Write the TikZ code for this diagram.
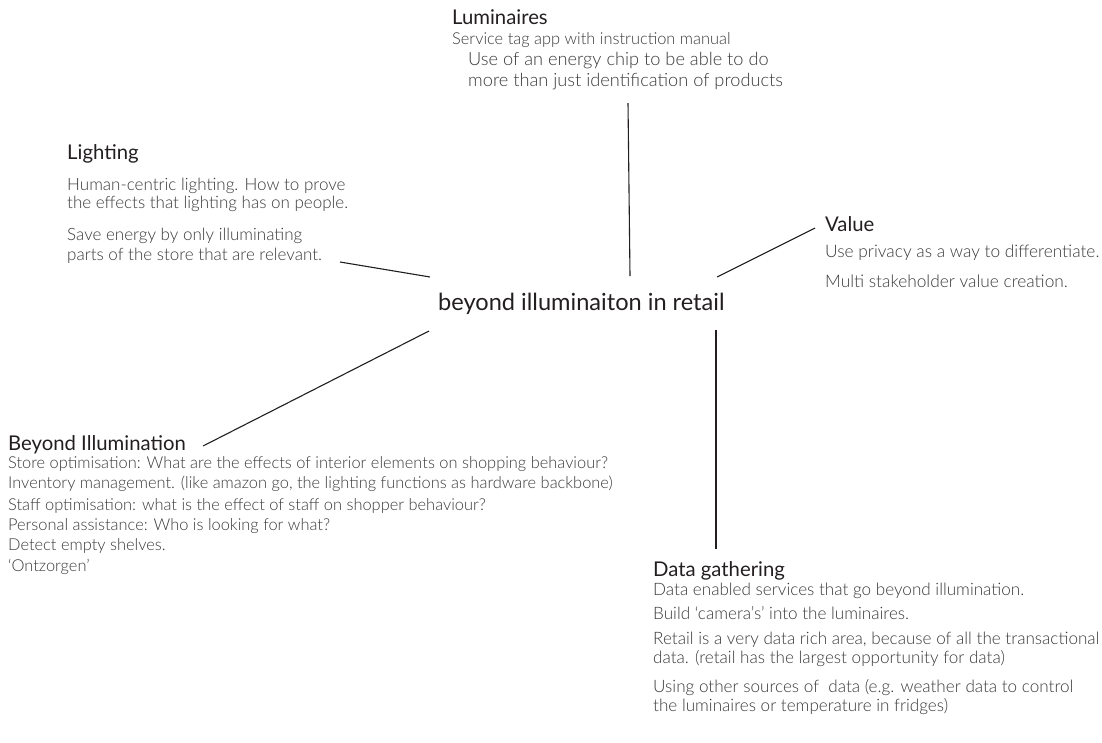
\documentclass[tikz,border=0pt]{standalone}
\usepackage{fontspec}
\setmainfont{Lato}
\newfontfamily\bodyfont{Lato Light}
\definecolor{inkdark}{HTML}{231F20}
\definecolor{inkbody}{HTML}{3A3A3A}
\begin{document}
\begin{tikzpicture}[x=1pt,y=-1pt,
  title/.style={anchor=base west,inner sep=0pt,text=inkdark,font=\fontsize{20.3}{24}\selectfont},
  body/.style={anchor=base west,inner sep=0pt,text=inkbody,font=\bodyfont\fontsize{#1}{20}\selectfont},
  body/.default=16.8,
  hub/.style={anchor=base west,inner sep=0pt,text=inkdark,font=\fontsize{23.6}{28}\selectfont},
  link/.style={draw=inkdark,line width=1.1pt}]
\useasboundingbox[fill=white] (0,0) rectangle (1102,742);

% central topic
\node[hub] (hub) at (438,310) {beyond illuminaiton in retail};

% Luminaires
\node[title] (lumT) at (452,24) {Luminaires};
\node[body=16.4] (lum1) at (452,44) {Service tag app with instruction manual};
\node[body=18.2] (lum2) at (468,65) {Use of an energy chip to be able to do};
\node[body=18.2] (lum3) at (468,86) {more than just identification of products};

% Lighting
\node[title] (ligT) at (67,159) {Lighting};
\node[body=17] (lig1) at (67,190) {Human-centric lighting. How to prove};
\node[body=17] (lig2) at (67,208) {the effects that lighting has on people.};
\node[body=17] (lig3) at (67,240) {Save energy by only illuminating};
\node[body=17] (lig4) at (67,260) {parts of the store that are relevant.};

% Value
\node[title] (valT) at (825,231) {Value};
\node[body=17.3] (val1) at (825,257) {Use privacy as a way to differentiate.};
\node[body=17.3] (val2) at (825,287) {Multi stakeholder value creation.};

% Beyond Illumination
\node[title] (beyT) at (8,450) {Beyond Illumination};
\node[body=16.4] (bey1) at (8,468) {Store optimisation: What are the effects of interior elements on shopping behaviour?};
\node[body=16.4] (bey2) at (8,488) {Inventory management. (like amazon go, the lighting functions as hardware backbone)};
\node[body=16.4] (bey3) at (8,510) {Staff optimisation: what is the effect of staff on shopper behaviour?};
\node[body=16.4] (bey4) at (8,530) {Personal assistance: Who is looking for what?};
\node[body=16.4] (bey5) at (8,550) {Detect empty shelves.};
\node[body=16.4] (bey6) at (8,571) {‘Ontzorgen’};

% Data gathering
\node[title] (datT) at (653,576) {Data gathering};
\node[body=17.1] (dat1) at (653,595) {Data enabled services that go beyond illumination.};
\node[body=17.1] (dat2) at (653,619) {Build ‘camera’s’ into the luminaires.};
\node[body=17.1] (dat3) at (653,644) {Retail is a very data rich area, because of all the transactional};
\node[body=17.1] (dat4) at (653,663) {data. (retail has the largest opportunity for data)};
\node[body=17.1] (dat5) at (653,692) {Using other sources of~ data (e.g. weather data to control};
\node[body=17.1] (dat6) at (653,711) {the luminaires or temperature in fridges)};

% connector end points
\coordinate (hubN)  at (630,276);
\coordinate (lumE)  at (628,103);
\coordinate (hubNW) at (430,277);
\coordinate (ligE)  at (340,262);
\coordinate (hubNE) at (717,277);
\coordinate (valE)  at (815,228);
\coordinate (hubSW) at (429,331);
\coordinate (beyE)  at (203,446);
\coordinate (hubSE) at (716,330);
\coordinate (datE)  at (716,549);

\draw[link] (hubN) -- (lumE);
\draw[link] (hubNW) -- (ligE);
\draw[link] (hubNE) -- (valE);
\draw[link] (hubSW) -- (beyE);
\draw[link] (hubSE) -- (datE);
\end{tikzpicture}
\end{document}
